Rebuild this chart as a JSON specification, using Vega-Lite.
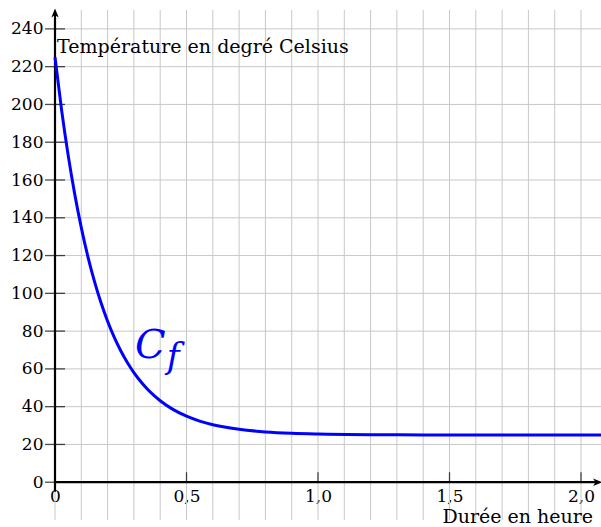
{
  "$schema": "https://vega.github.io/schema/vega-lite/v6.json",
  "autosize": "none",
  "width": 546,
  "height": 510,
  "padding": {"left": 55, "top": 10, "right": 0, "bottom": 7},
  "config": {"view": {"stroke": null}},
  "datasets": {
    "vgrid": [{"v":0},{"v":0.1},{"v":0.2},{"v":0.3},{"v":0.4},{"v":0.5},{"v":0.6},{"v":0.7},{"v":0.8},{"v":0.9},{"v":1.0},{"v":1.1},{"v":1.2},{"v":1.3},{"v":1.4},{"v":1.5},{"v":1.6},{"v":1.7},{"v":1.8},{"v":1.9},{"v":2.0}],
    "hgrid": [{"v":0},{"v":20},{"v":40},{"v":60},{"v":80},{"v":100},{"v":120},{"v":140},{"v":160},{"v":180},{"v":200},{"v":220},{"v":240}],
    "xticks": [{"v":0.5},{"v":1.0},{"v":1.5},{"v":2.0}],
    "axes": [{"x1":0,"y1":-5,"x2":0,"y2":249},{"x1":0,"y1":0,"x2":2.07,"y2":0}],
    "curve": [
      {"t":0,"f":225},{"t":0.025,"f":197.14},{"t":0.05,"f":173.16},{"t":0.075,"f":152.53},
      {"t":0.1,"f":134.76},{"t":0.125,"f":119.47},{"t":0.15,"f":106.31},{"t":0.175,"f":94.99},
      {"t":0.2,"f":85.24},{"t":0.225,"f":76.85},{"t":0.25,"f":69.63},{"t":0.275,"f":63.41},
      {"t":0.3,"f":58.06},{"t":0.325,"f":53.46},{"t":0.35,"f":49.49},{"t":0.375,"f":46.08},
      {"t":0.4,"f":43.14},{"t":0.45,"f":38.44},{"t":0.5,"f":34.96},{"t":0.55,"f":32.38},
      {"t":0.6,"f":30.46},{"t":0.65,"f":29.05},{"t":0.7,"f":28.0},{"t":0.8,"f":26.65},
      {"t":0.9,"f":25.9},{"t":1.0,"f":25.5},{"t":1.2,"f":25.15},{"t":1.4,"f":25.05},
      {"t":1.6,"f":25.01},{"t":1.8,"f":25.0},{"t":2.076,"f":25.0}
    ],
    "labels": [
      {"x":0.008,"y":227,"text":"Température en degré Celsius","kind":"main"},
      {"x":2.046,"y":-21.6,"text":"Durée en heure","kind":"xlab"}
    ],
    "curvelabel": [
      {"x":0.304,"y":65.8,"text":"C","size":18},
      {"x":0.425,"y":60.5,"text":"f","size":15}
    ],
    "arrows": [
      {"x":0,"y":248,"dir":"up"},
      {"x":2.06,"y":0,"dir":"right"}
    ]
  },
  "layer": [
    {
      "data": {"name": "vgrid"},
      "mark": {"type": "rule", "color": "#c8c8c8", "strokeWidth": 1},
      "encoding": {
        "x": {"field": "v", "type": "quantitative", "scale": {"domain": [0, 2.076], "nice": false, "zero": false},
          "axis": {"orient": "bottom", "offset": -38, "values": [0, 0.5, 1, 1.5, 2], "labelExpr": "datum.value == 0 ? '0' : replace(format(datum.value, '.1f'), '.', ',')", "domain": false, "ticks": false, "grid": false, "title": null, "labelFont": "DejaVu Serif", "labelFontSize": 17, "labelColor": "black", "labelPadding": 6, "labelFlush": false, "labelOverlap": false}}
      }
    },
    {
      "data": {"name": "hgrid"},
      "mark": {"type": "rule", "color": "#c8c8c8", "strokeWidth": 1},
      "encoding": {
        "y": {"field": "v", "type": "quantitative", "scale": {"domain": [-20, 250], "nice": false, "zero": false},
          "axis": {"orient": "left", "values": [0,20,40,60,80,100,120,140,160,180,200,220,240], "domain": false, "ticks": false, "grid": false, "title": null, "labelFont": "DejaVu Serif", "labelFontSize": 17, "labelColor": "black", "labelPadding": 12, "labelOverlap": false}}
      }
    },
    {
      "data": {"name": "hgrid"},
      "mark": {"type": "tick", "orient": "horizontal", "color": "black", "size": 20, "thickness": 1.3},
      "encoding": {
        "x": {"datum": 0, "type": "quantitative"},
        "y": {"field": "v", "type": "quantitative"}
      }
    },
    {
      "data": {"name": "xticks"},
      "mark": {"type": "tick", "orient": "vertical", "color": "black", "size": 10, "thickness": 1.3, "yOffset": -5},
      "encoding": {
        "x": {"field": "v", "type": "quantitative"},
        "y": {"datum": 0, "type": "quantitative"}
      }
    },
    {
      "data": {"name": "axes"},
      "mark": {"type": "rule", "color": "black", "strokeWidth": 2.2},
      "encoding": {
        "x": {"field": "x1", "type": "quantitative"},
        "y": {"field": "y1", "type": "quantitative"},
        "x2": {"field": "x2"},
        "y2": {"field": "y2"}
      }
    },
    {
      "data": {"name": "arrows"},
      "transform": [{"filter": "datum.dir == 'up'"}],
      "mark": {"type": "point", "shape": "M0,-1 L0.7,0.7 L0,0.25 L-0.7,0.7 Z", "filled": true, "color": "black", "size": 110, "opacity": 1},
      "encoding": {
        "x": {"field": "x", "type": "quantitative"},
        "y": {"field": "y", "type": "quantitative"}
      }
    },
    {
      "data": {"name": "arrows"},
      "transform": [{"filter": "datum.dir == 'right'"}],
      "mark": {"type": "point", "shape": "M1,0 L-0.7,0.7 L-0.25,0 L-0.7,-0.7 Z", "filled": true, "color": "black", "size": 110, "opacity": 1},
      "encoding": {
        "x": {"field": "x", "type": "quantitative"},
        "y": {"field": "y", "type": "quantitative"}
      }
    },
    {
      "data": {"name": "curve"},
      "mark": {"type": "line", "color": "#0000ff", "strokeWidth": 3, "interpolate": "monotone"},
      "encoding": {
        "x": {"field": "t", "type": "quantitative"},
        "y": {"field": "f", "type": "quantitative"}
      }
    },
    {
      "data": {"name": "labels"},
      "transform": [{"filter": "datum.kind == 'main'"}],
      "mark": {"type": "text", "align": "left", "baseline": "alphabetic", "font": "DejaVu Serif", "fontSize": 19, "color": "black"},
      "encoding": {
        "x": {"field": "x", "type": "quantitative"},
        "y": {"field": "y", "type": "quantitative"},
        "text": {"field": "text"}
      }
    },
    {
      "data": {"name": "labels"},
      "transform": [{"filter": "datum.kind == 'xlab'"}],
      "mark": {"type": "text", "align": "right", "baseline": "alphabetic", "font": "DejaVu Serif", "fontSize": 19, "color": "black"},
      "encoding": {
        "x": {"field": "x", "type": "quantitative"},
        "y": {"field": "y", "type": "quantitative"},
        "text": {"field": "text"}
      }
    },
    {
      "data": {"name": "curvelabel"},
      "mark": {"type": "text", "align": "left", "baseline": "alphabetic", "font": "DejaVu Serif", "fontStyle": "italic", "color": "#0000ff"},
      "encoding": {
        "x": {"field": "x", "type": "quantitative"},
        "y": {"field": "y", "type": "quantitative"},
        "text": {"field": "text"},
        "size": {"field": "size", "type": "quantitative", "scale": {"type": "identity"}, "legend": null}
      }
    }
  ]
}
